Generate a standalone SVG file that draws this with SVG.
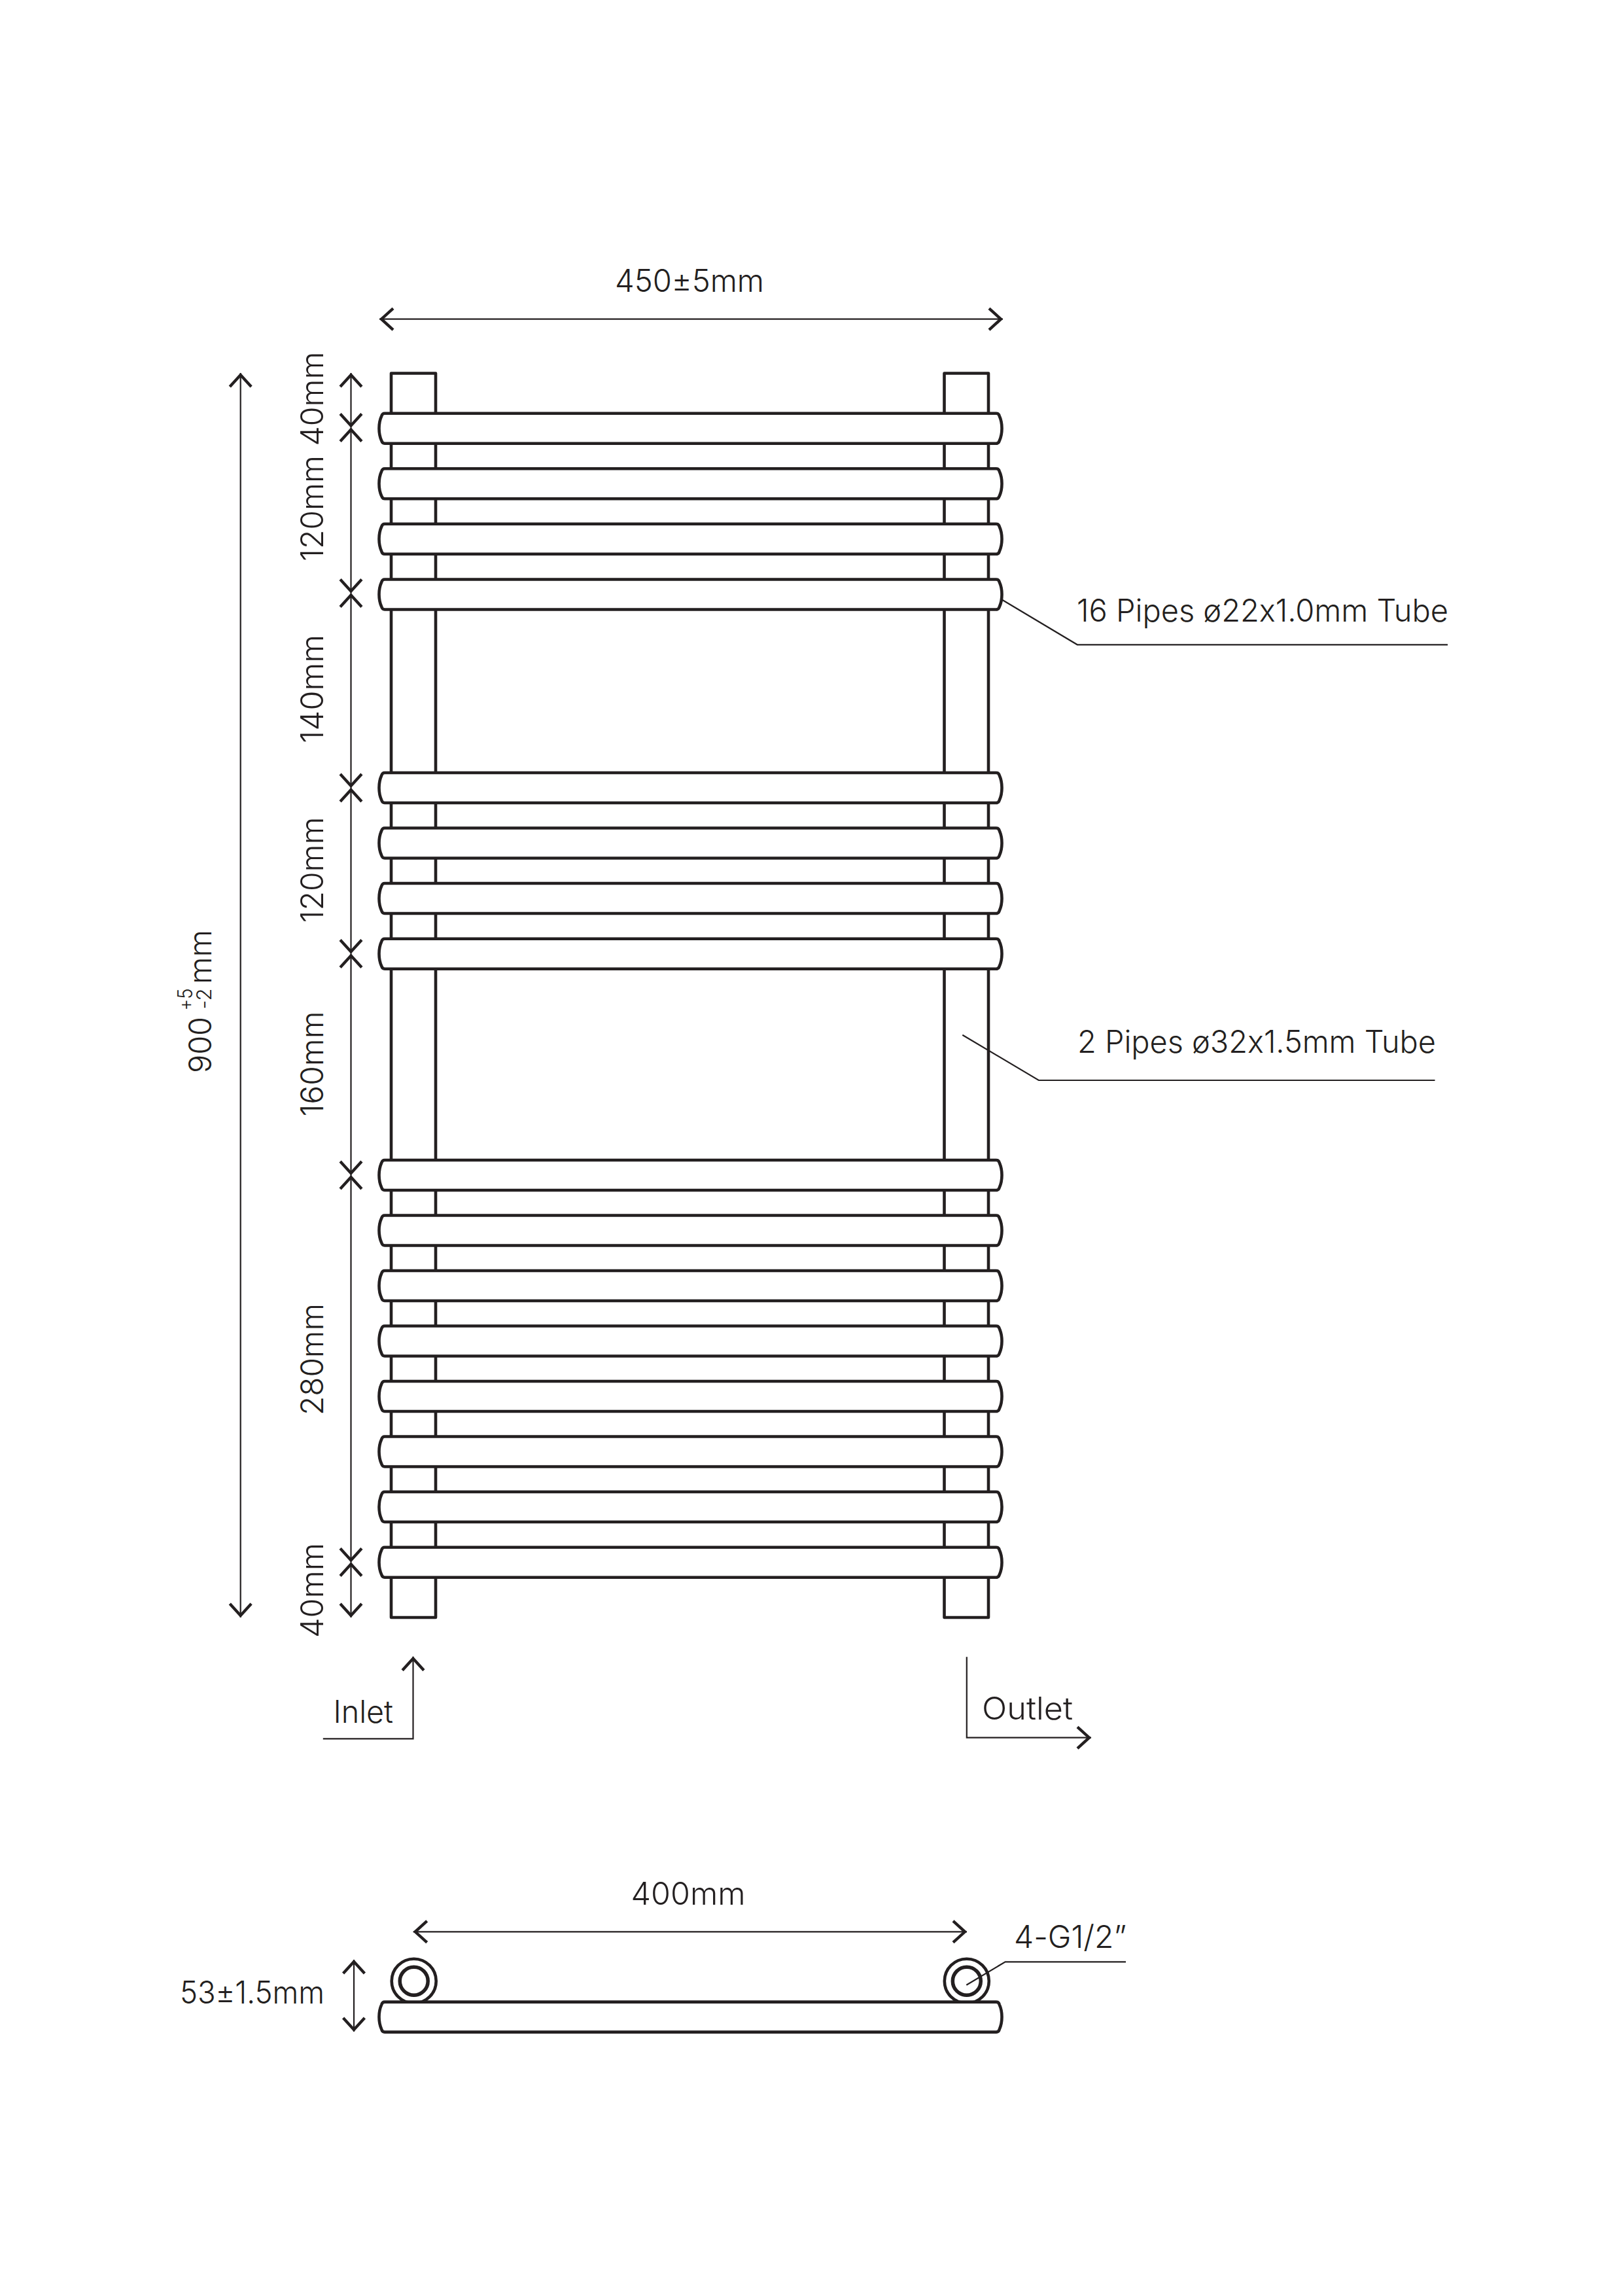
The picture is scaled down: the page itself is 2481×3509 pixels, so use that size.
<svg xmlns="http://www.w3.org/2000/svg" xmlns:xlink="http://www.w3.org/1999/xlink" width="2481" height="3509" viewBox="0 0 2481 3509">
<style>
.s{fill:#fff;stroke:#231f20;stroke-width:4.6;stroke-linejoin:round}
.i{stroke-width:5.5}
.c{fill:none;stroke:#231f20;stroke-width:2.2}
.d{fill:none;stroke:#231f20;stroke-width:2.2;marker-end:url(#ah);marker-start:url(#ah)}
.e{fill:none;stroke:#231f20;stroke-width:2.2;marker-end:url(#ah)}
text{font-family:"Inter","Liberation Sans",sans-serif;font-weight:300;font-size:48px;fill:#231f20;font-feature-settings:"calt" 0;font-variant-ligatures:none}
.sm{font-size:31px}
</style>
<defs>
<marker id="ah" markerUnits="userSpaceOnUse" markerWidth="40" markerHeight="50" refX="0" refY="0" orient="auto-start-reverse" overflow="visible">
<path d="M-21,-16.4 L-3,0 L-21,16.4" fill="none" stroke="#231f20" stroke-width="4.4"/>
</marker>
<path id="pipe" class="s" d="M588,-23 H1523 C1526,-23 1527,-21.5 1527.7,-19 C1532.8,-8 1532.8,8 1527.7,19 C1527,21.5 1526,23 1523,23 H588 C585,23 584,21.5 583.3,19 C578.2,8 578.2,-8 583.3,-19 C584,-21.5 585,-23 588,-23 Z"/>
</defs>
<rect width="2481" height="3509" fill="#fff"/>
<g id="column-left"><rect class="s" x="598" y="570.5" width="68" height="1901.5"/></g>
<g id="column-right"><rect class="s" x="1443.5" y="570.5" width="67.5" height="1901.5"/></g>
<g id="pipes">
<g id="pipe-1"><use xlink:href="#pipe" href="#pipe" y="654.7"/></g>
<g id="pipe-2"><use xlink:href="#pipe" href="#pipe" y="739.2"/></g>
<g id="pipe-3"><use xlink:href="#pipe" href="#pipe" y="823.8"/></g>
<g id="pipe-4"><use xlink:href="#pipe" href="#pipe" y="908.5"/></g>
<g id="pipe-5"><use xlink:href="#pipe" href="#pipe" y="1204"/></g>
<g id="pipe-6"><use xlink:href="#pipe" href="#pipe" y="1288.5"/></g>
<g id="pipe-7"><use xlink:href="#pipe" href="#pipe" y="1373"/></g>
<g id="pipe-8"><use xlink:href="#pipe" href="#pipe" y="1457.7"/></g>
<g id="pipe-9"><use xlink:href="#pipe" href="#pipe" y="1796"/></g>
<g id="pipe-10"><use xlink:href="#pipe" href="#pipe" y="1880.5"/></g>
<g id="pipe-11"><use xlink:href="#pipe" href="#pipe" y="1965"/></g>
<g id="pipe-12"><use xlink:href="#pipe" href="#pipe" y="2049.5"/></g>
<g id="pipe-13"><use xlink:href="#pipe" href="#pipe" y="2134"/></g>
<g id="pipe-14"><use xlink:href="#pipe" href="#pipe" y="2218.5"/></g>
<g id="pipe-15"><use xlink:href="#pipe" href="#pipe" y="2303"/></g>
<g id="pipe-16"><use xlink:href="#pipe" href="#pipe" y="2387.7"/></g>
</g>
<g id="side-view">
<g id="fitting-left"><circle class="s" cx="632.7" cy="3027.7" r="34"/><circle class="s i" cx="632.7" cy="3027.7" r="21.5"/></g>
<g id="fitting-right"><circle class="s" cx="1477.8" cy="3027.7" r="34"/><circle class="s i" cx="1477.8" cy="3027.7" r="21.5"/></g>
<g id="pipe-side"><use xlink:href="#pipe" href="#pipe" y="3082.6"/></g>
</g>
<g id="connectors">
<line class="d" x1="580" y1="487.7" x2="1533" y2="487.7"/>
<line class="d" x1="367.7" y1="570" x2="367.7" y2="2472"/>
<line class="d" x1="536.5" y1="570" x2="536.5" y2="653.5"/>
<line class="d" x1="536.5" y1="653.5" x2="536.5" y2="906.5"/>
<line class="d" x1="536.5" y1="906.5" x2="536.5" y2="1204"/>
<line class="d" x1="536.5" y1="1204" x2="536.5" y2="1457.5"/>
<line class="d" x1="536.5" y1="1457.5" x2="536.5" y2="1796"/>
<line class="d" x1="536.5" y1="1796" x2="536.5" y2="2387.5"/>
<line class="d" x1="536.5" y1="2387.5" x2="536.5" y2="2472"/>
<polyline class="c" points="1532.5,917 1646.8,985.3 2213,985.3"/>
<polyline class="c" points="1471.3,1581.7 1587.8,1651 2193.5,1651"/>
<polyline class="e" points="493.8,2657.3 631.5,2657.3 631.5,2531.7"/>
<polyline class="e" points="1477.8,2532.3 1477.8,2655.7 1668,2655.7"/>
<line class="d" x1="631.7" y1="2952.3" x2="1478" y2="2952.3"/>
<line class="d" x1="541" y1="2995" x2="541" y2="3105"/>
<polyline class="c" points="1477.3,3033.7 1536.7,2998.3 1721,2998.3"/>
</g>
<g id="labels">
<text x="940" y="445.7" textLength="228" lengthAdjust="spacingAndGlyphs">450±5mm</text>
<text x="1646" y="950" textLength="568" lengthAdjust="spacingAndGlyphs">16 Pipes ø22x1.0mm Tube</text>
<text x="1647" y="1609.3" textLength="548" lengthAdjust="spacingAndGlyphs">2 Pipes ø32x1.5mm Tube</text>
<text transform="translate(493.8,681.5) rotate(-90)" textLength="144" lengthAdjust="spacingAndGlyphs">40mm</text>
<text transform="translate(493.8,858) rotate(-90)" textLength="162" lengthAdjust="spacingAndGlyphs">120mm</text>
<text transform="translate(493.8,1136) rotate(-90)" textLength="166" lengthAdjust="spacingAndGlyphs">140mm</text>
<text transform="translate(493.8,1410.5) rotate(-90)" textLength="162" lengthAdjust="spacingAndGlyphs">120mm</text>
<text transform="translate(493.8,1706.5) rotate(-90)" textLength="161" lengthAdjust="spacingAndGlyphs">160mm</text>
<text transform="translate(493.8,2163) rotate(-90)" textLength="171" lengthAdjust="spacingAndGlyphs">280mm</text>
<text transform="translate(493.8,2503) rotate(-90)" textLength="145" lengthAdjust="spacingAndGlyphs">40mm</text>
<text transform="translate(323.3,1640) rotate(-90)" textLength="86" lengthAdjust="spacingAndGlyphs">900</text>
<text class="sm" transform="translate(294.3,1544.5) rotate(-90)" textLength="34" lengthAdjust="spacingAndGlyphs">+5</text>
<text class="sm" transform="translate(323.3,1542.5) rotate(-90)" textLength="32" lengthAdjust="spacingAndGlyphs">-2</text>
<text transform="translate(323.3,1504) rotate(-90)" textLength="83" lengthAdjust="spacingAndGlyphs">mm</text>
<text x="509.5" y="2632.7" textLength="91.5" lengthAdjust="spacingAndGlyphs">Inlet</text>
<text x="1501" y="2628.3" textLength="139" lengthAdjust="spacingAndGlyphs">Outlet</text>
<text x="964.5" y="2910.7" textLength="175" lengthAdjust="spacingAndGlyphs">400mm</text>
<text x="275" y="3062.3" textLength="221" lengthAdjust="spacingAndGlyphs">53±1.5mm</text>
<text x="1550" y="2976.7" textLength="172" lengthAdjust="spacingAndGlyphs">4-G1/2”</text>
</g>
</svg>
